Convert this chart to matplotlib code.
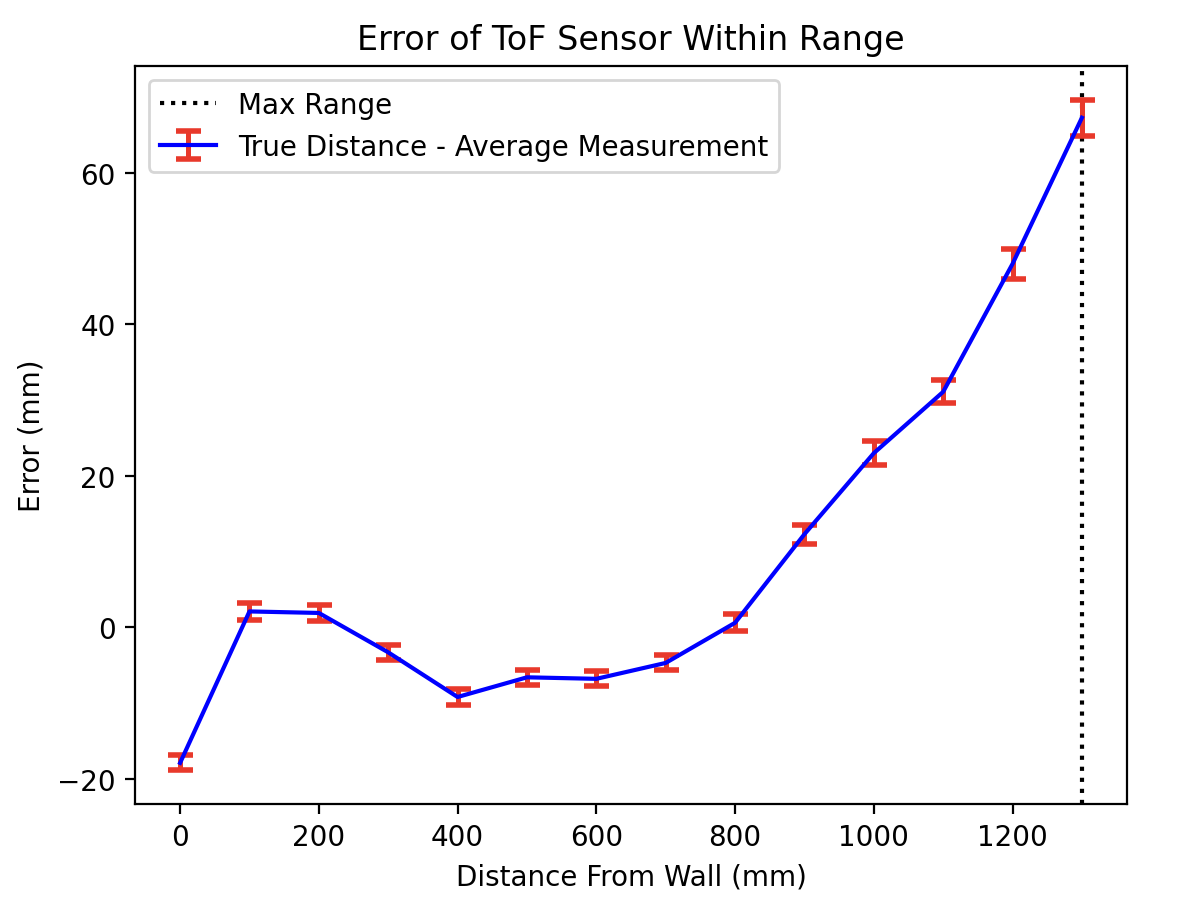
import matplotlib
matplotlib.use("Agg")
import matplotlib.pyplot as plt

# distance from wall (mm) and error = true distance - average measurement (mm)
distance = [0, 100, 200, 300, 400, 500, 600, 700, 800, 900, 1000, 1100, 1200, 1300]
error = [-17.9, 2.1, 1.9, -3.3, -9.2, -6.6, -6.8, -4.7, 0.6, 12.3, 23.0, 31.1, 48.0, 67.3]
error_std = [1.0, 1.1, 1.0, 1.0, 1.0, 1.0, 1.0, 1.0, 1.1, 1.25, 1.6, 1.5, 2.0, 2.4]
max_range = 1300

W, H = 1188, 912
fig = plt.figure(figsize=(W / 200, H / 200), dpi=200)
ax = fig.add_axes([135 / W, 1 - 805 / H, (1127 - 135) / W, (805 - 67) / H])
ax.axvline(max_range, color="black", linestyle=":", label="Max Range")
ax.errorbar(distance, error, yerr=error_std, color="blue", ecolor="#e8392b",
            elinewidth=1.8, capthick=2, capsize=4.5,
            label="True Distance - Average Measurement")
ax.set_title("Error of ToF Sensor Within Range")
ax.set_xlabel("Distance From Wall (mm)")
ax.set_ylabel("Error (mm)")
ax.legend(loc="upper left")

fig.savefig("out.png", dpi=200)
